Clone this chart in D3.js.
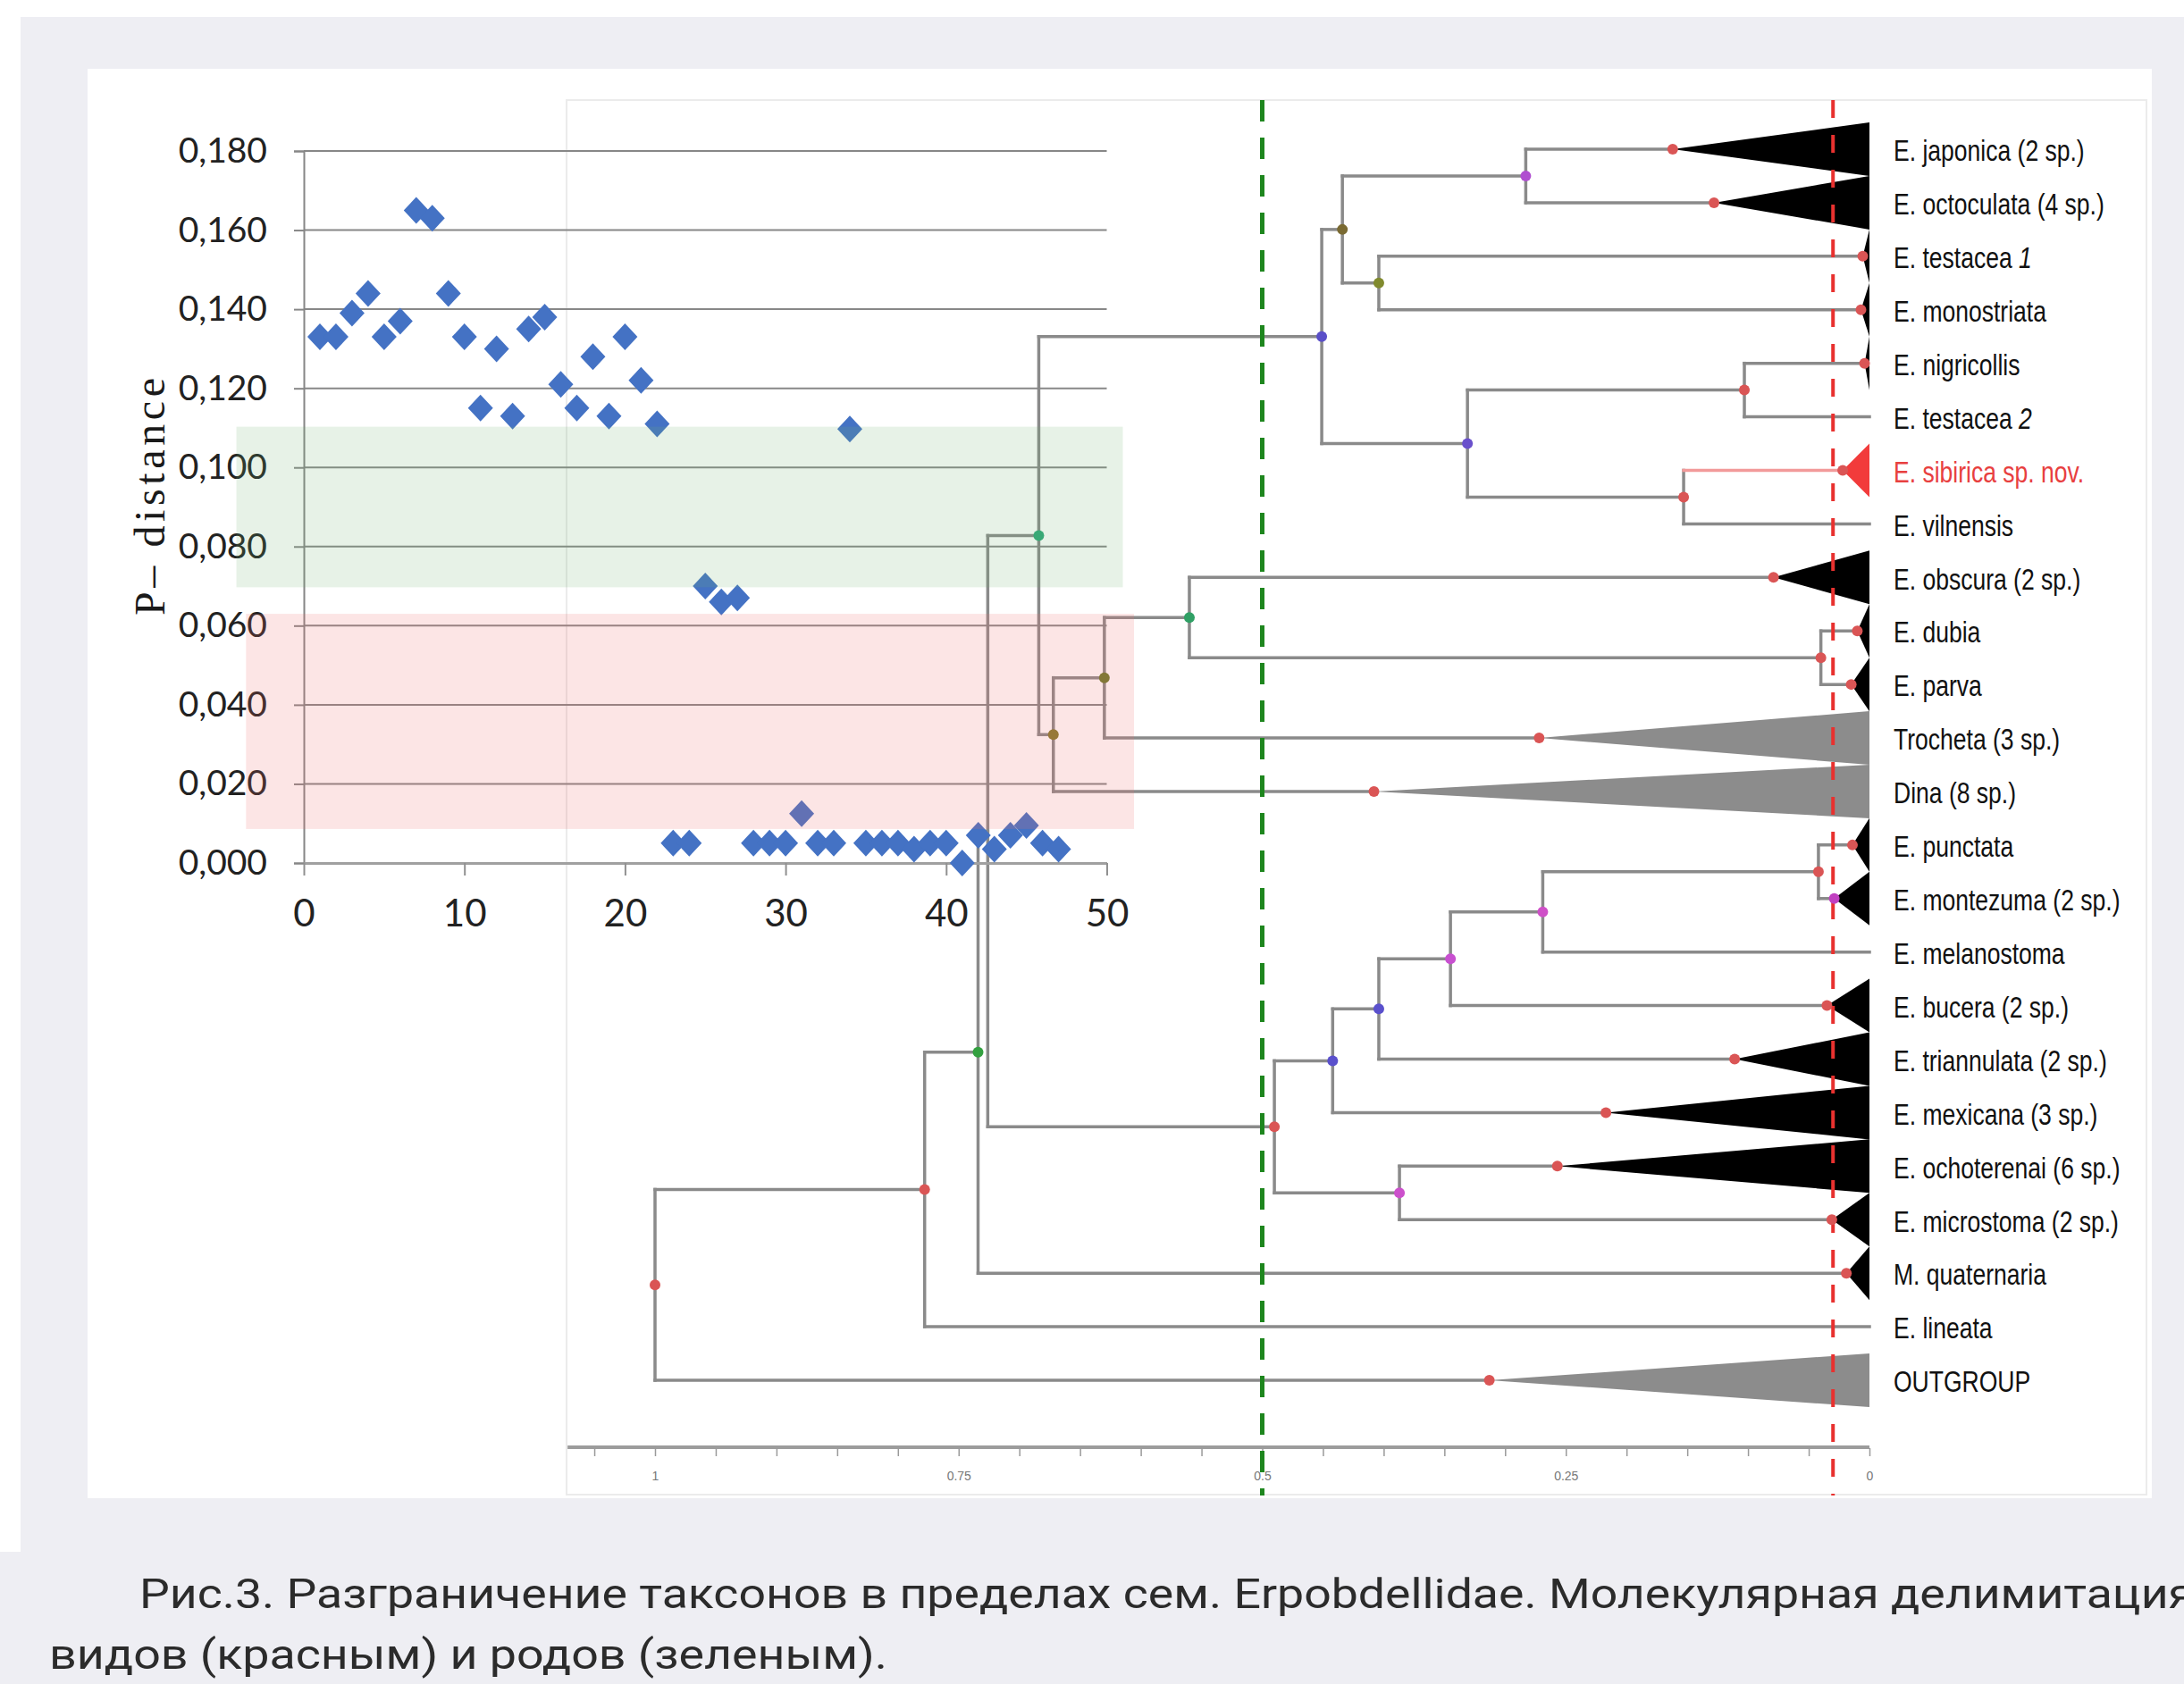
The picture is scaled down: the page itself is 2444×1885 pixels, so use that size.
<!DOCTYPE html>
<html><head><meta charset="utf-8">
<script src="https://cdn.jsdelivr.net/npm/d3@7"></script>
<style>html,body{margin:0;padding:0;background:#fff;}svg{display:block;}</style>
</head><body>
<svg id="chart" width="2444" height="1885"></svg>
<script>
// ---------------- scatter data (P-distance) ----------------
const pointX = [1,2,3,4,5,6,7,8,9,10,11,12,13,14,15,16,17,18,19,20,21,22,23,24,25,26,27,28,29,30,31,32,33,34,35,36,37,38,39,40,41,42,43,44,45,46,47];
const pointY = [0.133,0.133,0.139,0.144,0.133,0.137,0.165,0.163,0.144,0.133,0.115,0.130,0.113,0.135,0.138,0.121,0.115,0.128,0.113,0.133,0.122,0.111,
                0.005,0.005,0.070,0.066,0.067,0.005,0.005,0.005,0.0125,0.005,0.005,0.1097,0.005,0.005,0.005,0.0035,0.005,0.005,0.000,0.007,0.0035,0.007,0.0095,0.005,0.0035];
const yTicks = [0,0.02,0.04,0.06,0.08,0.10,0.12,0.14,0.16,0.18];
const yTickLabels = ["0,000","0,020","0,040","0,060","0,080","0,100","0,120","0,140","0,160","0,180"];
const xTicks = [0,10,20,30,40,50];
const genusBand = {x0:-4.2, x1:51.0, y0:0.0697, y1:0.1103};
const speciesBand = {x0:-3.6, x1:51.7, y0:0.0086, y1:0.0630};

// ---------------- tree data ----------------
const leaves = ["E. japonica (2 sp.)","E. octoculata (4 sp.)","E. testacea 1","E. monostriata","E. nigricollis","E. testacea 2",
  "E. sibirica sp. nov.","E. vilnensis","E. obscura (2 sp.)","E. dubia","E. parva","Trocheta (3 sp.)","Dina (8 sp.)",
  "E. punctata","E. montezuma (2 sp.)","E. melanostoma","E. bucera (2 sp.)","E. triannulata (2 sp.)","E. mexicana (3 sp.)",
  "E. ochoterenai (6 sp.)","E. microstoma (2 sp.)","M. quaternaria","E. lineata","OUTGROUP"];
const leafApex = [0.162,0.128,0.0055,0.007,0.004,0,0.022,0,0.079,0.010,0.015,0.272,0.408,0.014,0.029,0,0.035,0.111,0.217,0.257,0.031,0.019,0,0.313];
const leafCollapse = ["black","black","black","black","black","none","red","none","black","black","black","gray","gray",
  "black","black","none","black","black","black","black","black","black","none","gray"];
const nodeIds = ["A","B","C","D","E","F","G","L","K","J","I","H","X","W","V","U","S","T","N","M","P","Q","R"];
const nodeHeight = [0.283,0.404,0.434,0.103,0.153,0.331,0.451,0.040,0.560,0.630,0.672,0.684,0.042,0.269,0.345,0.404,0.442,0.387,0.490,0.726,0.734,0.778,1.0];
const nodeChildren = [
  ["E. japonica (2 sp.)","E. octoculata (4 sp.)"],["E. testacea 1","E. monostriata"],["A","B"],
  ["E. nigricollis","E. testacea 2"],["E. sibirica sp. nov.","E. vilnensis"],["D","E"],["C","F"],
  ["E. dubia","E. parva"],["E. obscura (2 sp.)","L"],["K","Trocheta (3 sp.)"],["J","Dina (8 sp.)"],["G","I"],
  ["E. punctata","E. montezuma (2 sp.)"],["X","E. melanostoma"],["W","E. bucera (2 sp.)"],["V","E. triannulata (2 sp.)"],
  ["U","E. mexicana (3 sp.)"],["E. ochoterenai (6 sp.)","E. microstoma (2 sp.)"],["S","T"],["H","N"],
  ["M","M. quaternaria"],["P","E. lineata"],["Q","OUTGROUP"]];
const treeTicks = [0,0.05,0.1,0.15,0.2,0.25,0.3,0.35,0.4,0.45,0.5,0.55,0.6,0.65,0.7,0.75,0.8,0.85,0.9,0.95,1,1.05];
const treeTickLabels = {"1":"1","0.75":"0.75","0.5":"0.5","0.25":"0.25","0":"0"};
const genusThreshold = 0.5;
const speciesThreshold = 0.03;
const captionLines = ["Рис.3. Разграничение таксонов в пределах сем. Erpobdellidae. Молекулярная делимитация",
                      "видов (красным) и родов (зеленым)."];

// ---------------- styles ----------------
const nodeColor = {A:"#B04FD0",B:"#808A2E",C:"#7A6A32",D:"#DA5555",E:"#DA5555",F:"#6A50CC",G:"#5A4FC8",
  L:"#DA5555",K:"#30A065",J:"#6B7A2B",I:"#857A2C",H:"#2EA878",X:"#DA5555",W:"#CF50C8",V:"#C850D0",
  U:"#5A50CC",S:"#5A50CC",T:"#CC50CC",N:"#DA5555",P:"#33A040",Q:"#DA5555",R:"#DA5555"};
const tipColor = {"E. montezuma (2 sp.)":"#C040C0"};
const fillKind = {black:"#000000", gray:"#8C8C8C", red:"#F23B3B"};

const svg = d3.select("#chart");
const W = 2444, H = 1885;

// backgrounds
svg.append("rect").attr("width",W).attr("height",H).attr("fill","#fff");
svg.append("rect").attr("x",23).attr("y",19).attr("width",W-23).attr("height",H-19).attr("fill","#EEEEF3");
svg.append("rect").attr("x",0).attr("y",1737).attr("width",23).attr("height",H-1737).attr("fill","#EEEEF3");
svg.append("rect").attr("x",98).attr("y",77).attr("width",2310).attr("height",1600).attr("fill","#fff");
svg.append("rect").attr("x",634).attr("y",112).attr("width",1768).attr("height",1561)
  .attr("fill","#fff").attr("stroke","#ebebeb").attr("stroke-width",2);

// ---------------- tree ----------------
const xT = d3.scaleLinear().domain([1,0]).range([733,2092]);
const rowY = d3.scalePoint().domain(leaves).range([167,1545]);
const leafInfo = new Map(leaves.map((n,i)=>[n,{apex:leafApex[i],kind:leafCollapse[i]}]));
const nodeInfo = new Map(nodeIds.map((id,i)=>[id,{h:nodeHeight[i],ch:nodeChildren[i]}]));
function yOf(id){
  if(leafInfo.has(id)) return rowY(id);
  const n = nodeInfo.get(id);
  if(n.y==null){ const ys=n.ch.map(yOf); n.y=(d3.min(ys)+d3.max(ys))/2; }
  return n.y;
}
function hOf(id){ return leafInfo.has(id) ? leafInfo.get(id).apex : nodeInfo.get(id).h; }

// scale bar
const tg = svg.append("g").attr("class","tree-axis");
tg.append("line").attr("x1",xT(1.072)).attr("x2",xT(0)).attr("y1",1620).attr("y2",1620)
  .attr("stroke","#9c9c9c").attr("stroke-width",4);
const tAxis = d3.axisBottom(xT).tickValues(treeTicks).tickSizeOuter(0).tickSize(9)
  .tickFormat(d=>{const k=String(+d.toFixed(2)); return treeTickLabels[k]||"";});
const tAx = tg.append("g").attr("transform","translate(0,1621)").call(tAxis);
tAx.select(".domain").remove();
tAx.selectAll(".tick line").attr("stroke","#9a9a9a").attr("stroke-width",1.5);
tAx.selectAll(".tick text").attr("fill","#777").attr("font-size",14)
  .attr("font-family","Liberation Sans, Arial, sans-serif").attr("y",26);

// branches
const segs = [];
nodeIds.forEach(id=>{
  const n = nodeInfo.get(id), x = xT(n.h);
  const ys = n.ch.map(yOf);
  segs.push({x1:x,x2:x,y1:d3.min(ys),y2:d3.max(ys),c:"#8a8a8a"});
  n.ch.forEach(c=>{
    segs.push({x1:x,x2:xT(hOf(c)),y1:yOf(c),y2:yOf(c),c:c==="E. sibirica sp. nov."?"#F29A9A":"#8a8a8a"});
  });
});
svg.append("g").selectAll("line").data(segs).join("line")
  .attr("x1",d=>d.x1).attr("x2",d=>d.x2).attr("y1",d=>d.y1).attr("y2",d=>d.y2)
  .attr("stroke",d=>d.c).attr("stroke-width",3.5).attr("stroke-linecap","square");

// collapsed clades
const collapsed = leaves.filter(n=>leafInfo.get(n).kind!=="none");
svg.append("g").selectAll("path").data(collapsed).join("path")
  .attr("d",n=>{const y=rowY(n), a=xT(leafInfo.get(n).apex), b=xT(0);
    return d3.line()([[a,y],[b,y-30],[b,y+30]])+"Z";})
  .attr("fill",n=>fillKind[leafInfo.get(n).kind]);

// threshold lines
svg.append("line").attr("x1",xT(genusThreshold)).attr("x2",xT(genusThreshold)).attr("y1",112).attr("y2",1674)
  .attr("stroke","#1E861E").attr("stroke-width",5).attr("stroke-dasharray","24 18");
svg.append("line").attr("x1",xT(speciesThreshold)).attr("x2",xT(speciesThreshold)).attr("y1",112).attr("y2",1674)
  .attr("stroke","#E8312F").attr("stroke-width",4).attr("stroke-dasharray","20 19");

// node dots
const dots = nodeIds.filter(id=>nodeColor[id]).map(id=>({x:xT(nodeInfo.get(id).h),y:yOf(id),c:nodeColor[id]}))
  .concat(collapsed.map(n=>({x:xT(leafInfo.get(n).apex),y:rowY(n),c:tipColor[n]||"#DA5555"})));
svg.append("g").selectAll("circle").data(dots).join("circle")
  .attr("cx",d=>d.x).attr("cy",d=>d.y).attr("r",6).attr("fill",d=>d.c);

// leaf labels
const lab = svg.append("g").selectAll("g").data(leaves).join("g")
  .attr("transform",n=>`translate(2119,${rowY(n)+1}) scale(0.78,1)`);
lab.append("text").attr("font-family","Liberation Sans, Arial, sans-serif").attr("font-size",34)
  .attr("dominant-baseline","central")
  .attr("fill",n=>n==="E. sibirica sp. nov."?"#E8403F":"#111")
  .each(function(n){
    const m = n.match(/^(.*\s)(\d)$/);
    const t = d3.select(this);
    if(m){ t.append("tspan").text(m[1]); t.append("tspan").attr("font-style","italic").text(m[2]); }
    else t.text(n);
  });

// ---------------- scatter ----------------
const xS = d3.scaleLinear().domain([0,50]).range([340,1238.5]);
const yS = d3.scaleLinear().domain([0,0.18]).range([966,169]);

svg.append("g").selectAll("line").data(yTicks.filter(d=>d>0)).join("line")
  .attr("x1",xS(0)).attr("x2",xS(50)).attr("y1",d=>yS(d)).attr("y2",d=>yS(d))
  .attr("stroke","#878787").attr("stroke-width",2);

const yAx = svg.append("g").attr("transform",`translate(${xS(0)},0)`)
  .call(d3.axisLeft(yS).tickValues(yTicks).tickSize(11).tickPadding(30)
        .tickFormat((d,i)=>yTickLabels[i]));
yAx.select(".domain").attr("stroke","#868686").attr("stroke-width",2);
yAx.selectAll(".tick line").attr("stroke","#878787").attr("stroke-width",2);
yAx.selectAll(".tick text").attr("font-family","Lato, 'Open Sans', sans-serif").attr("font-size",39).attr("fill","#222");

const xAx = svg.append("g").attr("transform",`translate(0,${yS(0)})`)
  .call(d3.axisBottom(xS).tickValues(xTicks).tickSize(14).tickPadding(27).tickSizeOuter(0));
xAx.select(".domain").attr("stroke","#a0a0a0").attr("stroke-width",3);
xAx.selectAll(".tick line").attr("stroke","#909090").attr("stroke-width",2);
xAx.selectAll(".tick text").attr("font-family","Lato, 'Open Sans', sans-serif").attr("font-size",42).attr("fill","#222");

svg.append("g").selectAll("path").data(pointX.map((x,i)=>({x,y:pointY[i]}))).join("path")
  .attr("d","M0,-15L14,0L0,15L-14,0Z")
  .attr("transform",d=>`translate(${xS(d.x)},${yS(d.y)})`)
  .attr("fill","#4472C4");

// delimitation bands
svg.append("rect").attr("x",xS(genusBand.x0)).attr("width",xS(genusBand.x1)-xS(genusBand.x0))
  .attr("y",yS(genusBand.y1)).attr("height",yS(genusBand.y0)-yS(genusBand.y1))
  .attr("fill","rgb(110,180,110)").attr("fill-opacity",0.17);
svg.append("rect").attr("x",xS(speciesBand.x0)).attr("width",xS(speciesBand.x1)-xS(speciesBand.x0))
  .attr("y",yS(speciesBand.y1)).attr("height",yS(speciesBand.y0)-yS(speciesBand.y1))
  .attr("fill","rgb(240,110,110)").attr("fill-opacity",0.18);

// y title
svg.append("text").attr("transform","translate(167,556) rotate(-90)")
  .attr("text-anchor","middle").attr("dominant-baseline","central")
  .attr("font-family","Liberation Serif, 'Times New Roman', serif").attr("font-size",48).attr("fill","#1a1a1a")
  .attr("textLength",266).attr("lengthAdjust","spacing").text("P– distance");

// caption
svg.append("text").attr("x",156).attr("y",1800).attr("font-family","Roboto, 'Noto Sans', sans-serif")
  .attr("font-size",46).attr("fill","#2b2b2b").attr("textLength",2300).attr("lengthAdjust","spacingAndGlyphs")
  .text(captionLines[0]);
svg.append("text").attr("x",55).attr("y",1868).attr("font-family","Roboto, 'Noto Sans', sans-serif")
  .attr("font-size",46).attr("fill","#2b2b2b").attr("textLength",938).attr("lengthAdjust","spacingAndGlyphs")
  .text(captionLines[1]);
</script>
</body></html>
